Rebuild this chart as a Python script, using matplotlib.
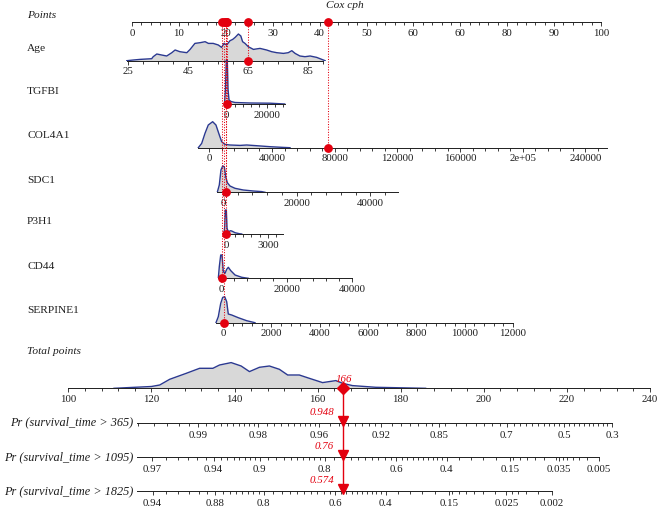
import numpy as np
import matplotlib.pyplot as plt

plt.rcParams["font.family"] = ["Liberation Serif", "DejaVu Serif"]

W, H = 658, 509  # output size in pixels

# pixel scales
PT0_PX, PX_PER_PT = 132.0, 4.69      # Points axis: 0 pts at x=132
TP100_PX, PX_PER_TP = 68.3, 4.155    # Total points axis: 100 at x=68.3

# ---------------- data ----------------
points_ticks = [0, 10, 20, 30, 40, 50, 60, 70, 80, 90, 100]
points_labels = ["0", "10", "20", "30", "40", "50", "60", "60", "80", "90", "100"]

var_names = ["Age", "TGFBI", "COL4A1", "SDC1", "P3H1", "CD44", "SERPINE1"]
# points = intercept + slope * value
pts_intercept = [-16.78, 20.19, 16.48, 19.40, 20.11, 18.98, 19.40]
pts_slope = [0.6397, 4.264e-4, 3.342e-4, 7.857e-4, 2.964e-3, 6.983e-4, 5.153e-3]
var_max = [90, 29000, 254000, 47500, 4100, 40000, 12000]
var_major = [
    [25, 45, 65, 85],
    [0, 20000],
    [0, 40000, 80000, 120000, 160000, 200000, 240000],
    [0, 20000, 40000],
    [0, 3000],
    [0, 20000, 40000],
    [0, 2000, 4000, 6000, 8000, 10000, 12000],
]
var_labels = [
    ["25", "45", "65", "85"],
    ["0", "20000"],
    ["0", "40000", "80000", "120000", "160000", "2e+05", "240000"],
    ["0", "20000", "40000"],
    ["0", "3000"],
    ["0", "20000", "40000"],
    ["0", "2000", "4000", "6000", "8000", "10000", "12000"],
]
var_minor_step = [5, 4000, 8000, 4000, 600, 4000, 400]
patient = [65, 200, 75900, 800, 0, 200, 30]

# density outlines (value, height)
age_x = [24.5, 26.7, 28.9, 32.8, 33.3, 34.5, 36.1, 37.8, 39.5, 40.6, 42.2, 44.5, 45.6, 47.2, 48.9,
         50.6, 51.7, 53.3, 55.0, 56.1, 56.9, 57.8, 58.9, 59.8, 60.6, 61.7, 62.5, 63.1, 63.9, 65.0,
         66.7, 68.9, 71.1, 72.8, 74.5, 76.7, 78.3, 79.5, 80.6, 82.2, 83.9, 85.6, 87.8, 89.5, 90.6]
age_d = [0, 0.7, 1.3, 2, 4, 6.7, 5.7, 4.7, 8, 10.7, 9, 8, 11.3, 17.3, 18,
         19, 17.3, 17.3, 15.7, 13.3, 17.3, 15.7, 20, 21.3, 23.3, 26.7, 24.7, 19, 17.3, 14,
         11.3, 12.3, 10.7, 9, 8, 7.3, 8, 10, 7.3, 4.7, 4, 4.7, 3.3, 1.3, 0]
tgfbi_x = [-1100, -600, -200, 300, 650, 1150, 2150, 4150, 11650, 21650, 29000]
tgfbi_d = [0, 15, 44, 44, 15, 4, 2.5, 1.5, 1, 0.8, 0]
col4a1_x = [-7000, -4850, -2750, -650, 2150, 4250, 6400, 7900, 10000, 13200, 19600, 23900,
            30200, 38800, 47200, 51500]
col4a1_d = [0, 4.3, 14.3, 22.7, 26, 22.7, 12.7, 6, 3.3, 2.7, 2.3, 2.7, 2, 1, 0.3, 0]
sdc1_x = [-1550, -1000, -550, -80, 350, 730, 1170, 1900, 3260, 5510, 8220, 10500, 11400]
sdc1_d = [0, 7.3, 22.3, 26.3, 25.7, 15.7, 9.7, 6.3, 4, 2.3, 1.3, 0.7, 0]
p3h1_x = [-165, -115, -72, 0, 50, 144, 317, 432, 626, 935, 1108]
p3h1_d = [0, 7.3, 24, 24, 5.7, 2.3, 3.3, 2.7, 1.3, 0.3, 0]
cd44_x = [-820, -520, -90, 305, 700, 1220, 1740, 2230, 2960, 4280, 6320, 8340]
cd44_d = [0, 11.7, 23.3, 23.3, 6.7, 5, 9, 11, 7.7, 3.3, 1, 0]
serpine1_x = [-290, -194, -95, -12, 70, 153, 219, 360, 633, 981, 1324]
serpine1_d = [0, 6, 19.3, 25.3, 26, 21, 8.7, 7.7, 5, 2, 0]
dens_x = [age_x, tgfbi_x, col4a1_x, sdc1_x, p3h1_x, cd44_x, serpine1_x]
dens_d = [age_d, tgfbi_d, col4a1_d, sdc1_d, p3h1_d, cd44_d, serpine1_d]

total_x = [111, 116, 120, 122.0, 124.4, 128.4, 131.6, 134.8, 136.4, 139.2, 141.6, 143.6, 146.0,
           148.4, 150.8, 152.8, 155.6, 158.0, 161.2, 164.4, 166.0, 168.4, 174.0, 180, 186]
total_d = [0, 1, 1.8, 3.3, 9, 15, 20, 20, 23.3, 25.7, 22.3, 16.7, 21,
           22.3, 19, 13.3, 13.3, 10, 5.7, 7.7, 5, 2.7, 1, 0.5, 0]
total_ticks = [100, 120, 140, 160, 180, 200, 220, 240]
total_points = 166

surv_times = [365, 1095, 1825]
surv_at_total = [0.948, 0.76, 0.574]
surv_labels = [
    [0.99, 0.98, 0.96, 0.92, 0.85, 0.7, 0.5, 0.3],
    [0.97, 0.94, 0.9, 0.8, 0.6, 0.4, 0.15, 0.035, 0.005],
    [0.94, 0.88, 0.8, 0.6, 0.4, 0.15, 0.025, 0.002],
]
cloglog_slope = 0.048

# ---------------- layout ----------------
points_base = 22
var_base = [60.7, 104, 147.7, 192.3, 234, 278.3, 322.7]
total_base = 388.3
surv_base = [422.7, 457, 491]
pr_axis_start = 116.5  # total points where the Pr axes begin

RED = "#e3000f"
NAVY = "#2b3990"
FILL = "#d8d8d8"
INK = "#1e1e1e"
TICK_FS = 7.8
LABEL_FS = 8.2
PR_FS = 8.8

fig = plt.figure(figsize=(W / 100, H / 100), dpi=100)


def row_axes(base_px, height_px, xlim):
    ax = fig.add_axes([0, 1 - base_px / H, 1, height_px / H])
    ax.set_xlim(*xlim)
    ax.set_ylim(0, height_px)
    ax.patch.set_visible(False)
    for s in ("top", "left", "right"):
        ax.spines[s].set_visible(False)
    ax.spines["bottom"].set_linewidth(0.7)
    ax.spines["bottom"].set_color(INK)
    ax.set_yticks([])
    ax.tick_params(axis="x", which="both", direction="out", width=0.6, color=INK,
                   labelsize=TICK_FS, labelcolor=INK, pad=1.5)
    ax.tick_params(axis="x", which="major", length=3.2)
    ax.tick_params(axis="x", which="minor", length=2.2)
    return ax


def row_label(y_px, text, **kw):
    fig.text(27 / W, 1 - y_px / H, text, ha="left", va="center", fontsize=LABEL_FS,
             color=INK, **kw)


pts_lim = (-PT0_PX / PX_PER_PT, (W - PT0_PX) / PX_PER_PT)
tp_lim = (100 - TP100_PX / PX_PER_TP, 100 + (W - TP100_PX) / PX_PER_TP)

# Points axis
ax_pts = row_axes(points_base, 12, pts_lim)
ax_pts.spines["bottom"].set_bounds(0, 100)
ax_pts.set_xticks(points_ticks, labels=points_labels)
ax_pts.set_xticks(np.arange(0, 101, 2), minor=True)
row_label(points_base - 7, "Points", style="italic")
fig.text(345 / W, 1 - 6 / H, "Cox cph", ha="center", va="center", fontsize=LABEL_FS,
         style="italic", color=INK)

patient_pts = [b + a * v for a, b, v in zip(pts_slope, pts_intercept, patient)]
ax_pts.plot(patient_pts, np.zeros(len(patient_pts)), "o", color=RED, ms=5.3,
            clip_on=False, zorder=6)

# variable rows
for i, name in enumerate(var_names):
    a, b = pts_slope[i], pts_intercept[i]
    ax = row_axes(var_base[i], 48, ((pts_lim[0] - b) / a, (pts_lim[1] - b) / a))
    x, d = np.array(dens_x[i]), np.array(dens_d[i])
    ax.spines["bottom"].set_bounds(x[0], var_max[i])
    ax.fill_between(x, 0, d, color=FILL, lw=0, zorder=1)
    ax.plot(x, d, color=NAVY, lw=1.0, zorder=2)
    ax.set_xticks(var_major[i], labels=var_labels[i])
    step = var_minor_step[i]
    ax.set_xticks(np.arange(var_major[i][0], var_max[i] + 1e-9, step), minor=True)
    v = patient[i]
    ax.plot([v, v], [0, var_base[i] - points_base], ls=(0, (1, 1.5)), color=RED,
            lw=0.75, clip_on=False, zorder=4)
    ax.plot([v], [0], "o", color=RED, ms=5.3, clip_on=False, zorder=6)
    row_label(var_base[i] - 12, name)

# total points row
ax_tot = row_axes(total_base, 40, tp_lim)
ax_tot.spines["bottom"].set_bounds(100, 240)
ax_tot.fill_between(total_x, 0, total_d, color=FILL, lw=0, zorder=1)
ax_tot.plot(total_x, total_d, color=NAVY, lw=1.0, zorder=2)
ax_tot.set_xticks(total_ticks, labels=[str(t) for t in total_ticks])
ax_tot.set_xticks(np.arange(100, 241, 4), minor=True)
ax_tot.plot([total_points], [0], "D", color=RED, ms=6, clip_on=False, zorder=6)
ax_tot.text(total_points + 0.3, 4.5, str(total_points), color=RED, style="italic",
            fontsize=TICK_FS, ha="center", va="bottom")
row_label(total_base - 37, "Total points", style="italic")


def tp_of_prob(p, p_total):
    p = np.asarray(p, dtype=float)
    return total_points + (np.log(-np.log(p)) - np.log(-np.log(p_total))) / cloglog_slope


def minor_probs(labels, p_total):
    steps = [0.001, 0.002, 0.005, 0.01, 0.02, 0.05]
    out = []
    for hi, lo in zip(labels[:-1], labels[1:]):
        s = next(st for st in steps if (hi - lo) / st <= 10.001)
        k = np.arange(np.ceil(lo / s - 1e-6), np.floor(hi / s + 1e-6) + 1)
        out += list(k * s)
    s = next(st for st in steps if (labels[0] - labels[1]) / st <= 10.001)
    p = labels[0] + s
    while p < 1 and tp_of_prob(p, p_total) >= pr_axis_start:
        out.append(p)
        p += s
    return np.array(out)


for j, t in enumerate(surv_times):
    p_tot = surv_at_total[j]
    labs = surv_labels[j]
    ax = row_axes(surv_base[j], 14, tp_lim)
    tp_major = tp_of_prob(labs, p_tot)
    ax.spines["bottom"].set_bounds(pr_axis_start, tp_major[-1])
    ax.set_xticks(tp_major, labels=[str(p) for p in labs])
    tp_minor = tp_of_prob(minor_probs(labs, p_tot), p_tot)
    tp_minor = tp_minor[(tp_minor >= pr_axis_start) & (tp_minor <= tp_major[-1])]
    ax.set_xticks(tp_minor, minor=True)
    ax.tick_params(axis="x", which="both", pad=2.5)
    ax.plot([total_points], [1.8], "v", color=RED, ms=6.5, clip_on=False, zorder=6)
    ax.text(total_points - 2.0, 6, str(p_tot), color=RED, style="italic",
            fontsize=TICK_FS, ha="right", va="bottom")
    fig.text(133 / W, 1 - surv_base[j] / H, f"Pr (survival_time > {t})", ha="right",
             va="center", fontsize=PR_FS, style="italic", color=INK)
    if j == len(surv_times) - 1:
        ax.plot([total_points, total_points], [0, surv_base[j] - total_base], color=RED,
                lw=1.0, clip_on=False, zorder=5)

fig.savefig("out.png", dpi=100)
